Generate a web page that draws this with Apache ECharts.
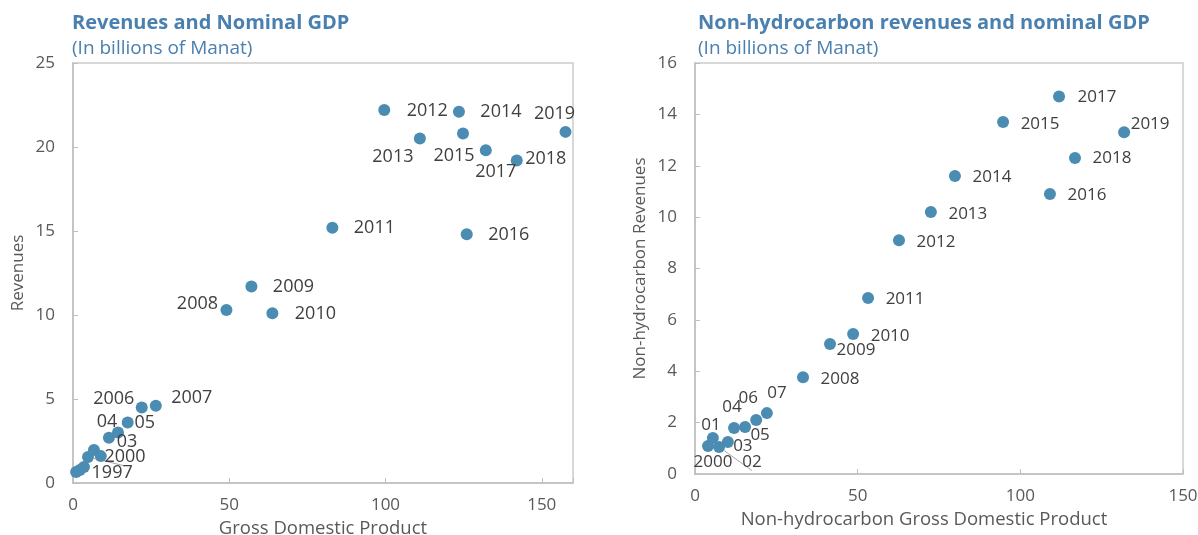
<!DOCTYPE html>
<html>
<head>
<meta charset="utf-8">
<title>Revenues and Nominal GDP</title>
<script src="https://cdn.jsdelivr.net/npm/echarts@6/dist/echarts.min.js"></script>
<style>
  html, body { margin: 0; padding: 0; background: #fff; }
  #chart { width: 1198px; height: 535px; }
</style>
</head>
<body>
<div id="chart"></div>
<script>
// ---- left panel: revenues vs GDP, 1997-2019 ----
var leftYears = [1997, 1998, 1999, 2000, 2001, 2002, 2003, 2004, 2005, 2006, 2007, 2008,
  2009, 2010, 2011, 2012, 2013, 2014, 2015, 2016, 2017, 2018, 2019];
var leftGdp = [1.0, 2.2, 3.5, 4.8, 6.7, 8.9, 11.5, 14.4, 17.5, 22.0, 26.5, 49.1,
  57.1, 63.8, 83.0, 99.6, 111.0, 123.5, 124.8, 126.0, 132.1, 142.0, 157.6];
var leftRevenues = [0.65, 0.77, 0.95, 1.55, 1.96, 1.6, 2.7, 3.0, 3.6, 4.5, 4.6, 10.3,
  11.7, 10.1, 15.2, 22.2, 20.5, 22.1, 20.8, 14.8, 19.8, 19.2, 20.9];
var leftLabels = ['1997', '', '', '2000', '', '', '03', '04', '05', '2006', '2007', '2008',
  '2009', '2010', '2011', '2012', '2013', '2014', '2015', '2016', '2017', '2018', '2019'];

// ---- right panel: non-hydrocarbon revenues vs non-hydrocarbon GDP, 2000-2019 ----
var rightYears = [2000, 2001, 2002, 2003, 2004, 2005, 2006, 2007, 2008, 2009,
  2010, 2011, 2012, 2013, 2014, 2015, 2016, 2017, 2018, 2019];
var rightGdp = [4.0, 5.5, 7.4, 10.1, 12.0, 15.4, 18.8, 22.1, 33.2, 41.5,
  48.6, 53.2, 62.7, 72.5, 79.9, 94.7, 109.1, 111.9, 116.8, 131.9];
var rightRevenues = [1.09, 1.4, 1.05, 1.25, 1.79, 1.83, 2.1, 2.37, 3.77, 5.06,
  5.45, 6.85, 9.1, 10.2, 11.6, 13.7, 10.9, 14.7, 12.3, 13.3];
var rightLabels = ['2000', '01', '02', '03', '04', '05', '06', '07', '2008', '2009',
  '2010', '2011', '2012', '2013', '2014', '2015', '2016', '2017', '2018', '2019'];

// label placement (offset of label centre from the dot), by year
var leftLabelOffset = {
  1997: [36, 1], 2000: [37, 0], 2003: [18, 4], 2004: [-11, -11], 2005: [17, 0],
  2006: [-28, -9], 2007: [36, -8], 2008: [-29, -6], 2009: [42, 0], 2010: [43, 1],
  2011: [42, 0], 2012: [43, 1], 2013: [-27, 18], 2014: [42, 0], 2015: [-9, 22],
  2016: [42, 1], 2017: [10, 22], 2018: [29, -2], 2019: [-11, -18]
};
var rightLabelOffset = {
  2000: [5, 16], 2001: [-2, -13], 2002: [33, 15], 2003: [15, 4], 2004: [-2, -21],
  2005: [15, 8], 2006: [-8, -22], 2007: [10, -20], 2008: [37, 2], 2009: [26, 6],
  2010: [37, 2], 2011: [37, 1], 2012: [37, 2], 2013: [37, 2], 2014: [37, 1],
  2015: [37, 2], 2016: [37, 1], 2017: [38, 1], 2018: [37, 0], 2019: [26, -8]
};
// labels that were pulled away from their dot get a thin leader line
var leftLeader = [2000];
var rightLeader = [2002];

var dotColor = '#4a8cb2';
var titleColor = '#4a80b0';
var textColor = '#404040';
var axisColor = '#bfbfbf';
var fontFamily = '"Open Sans", "Noto Sans", sans-serif';

function buildPoints(xs, ys, years, labels, offsets, leaders, fontSize) {
  var pts = [];
  for (var i = 0; i < xs.length; i++) {
    var item = { value: [xs[i], ys[i]] };
    if (labels[i]) {
      item.label = {
        show: true,
        formatter: labels[i],
        position: 'inside',
        offset: offsets[years[i]] || [36, 0],
        color: textColor,
        fontSize: fontSize,
        fontFamily: fontFamily
      };
      if (leaders.indexOf(years[i]) >= 0) {
        item.labelLine = { show: true, lineStyle: { color: '#a6a6a6', width: 1 } };
      }
    } else {
      item.label = { show: false };
    }
    pts.push(item);
  }
  return pts;
}

function makeXAxis(gridIndex, max, name, gap, shift) {
  return {
    gridIndex: gridIndex, type: 'value', min: 0, max: max, interval: 50,
    name: name, nameLocation: 'middle', nameGap: gap,
    nameTextStyle: { color: '#595959', fontSize: 18.5, fontFamily: fontFamily, padding: [0, shift, 0, 0] },
    axisLine: { show: true, lineStyle: { color: axisColor, width: 1.5 } },
    axisTick: { show: true, inside: true, length: 5, lineStyle: { color: axisColor } },
    axisLabel: {
      color: '#595959', fontSize: 17, fontFamily: fontFamily, margin: 14,
      formatter: function (v) { return v % 50 === 0 ? v : ''; }
    },
    splitLine: { show: false }
  };
}

function makeYAxis(gridIndex, max, interval, name) {
  return {
    gridIndex: gridIndex, type: 'value', min: 0, max: max, interval: interval,
    name: name, nameLocation: 'middle', nameGap: 46,
    nameTextStyle: { color: '#595959', fontSize: 17, fontFamily: fontFamily },
    axisLine: { show: true, lineStyle: { color: axisColor, width: 1.5 } },
    axisTick: { show: true, inside: true, length: 5, lineStyle: { color: axisColor } },
    axisLabel: { color: '#595959', fontSize: 17, fontFamily: fontFamily, margin: 18 },
    splitLine: { show: false }
  };
}

var chart = echarts.init(document.getElementById('chart'));
var option = {
  backgroundColor: '#ffffff',
  animation: false,
  title: [
    {
      text: 'Revenues and Nominal GDP', subtext: '(In billions of Manat)',
      left: 67, top: 8, itemGap: 6,
      textStyle: { color: titleColor, fontSize: 20, fontWeight: 'bold', fontFamily: fontFamily },
      subtextStyle: { color: titleColor, fontSize: 19, fontFamily: fontFamily }
    },
    {
      text: 'Non-hydrocarbon revenues and nominal GDP', subtext: '(In billions of Manat)',
      left: 693, top: 8, itemGap: 6,
      textStyle: { color: titleColor, fontSize: 20, fontWeight: 'bold', fontFamily: fontFamily },
      subtextStyle: { color: titleColor, fontSize: 19, fontFamily: fontFamily }
    }
  ],
  grid: [
    { left: 73, top: 63, width: 500, height: 420, outerBoundsMode: 'none',
      show: true, borderColor: '#cccccc', borderWidth: 1.5 },
    { left: 695, top: 63, width: 488, height: 411, outerBoundsMode: 'none',
      show: true, borderColor: '#cccccc', borderWidth: 1.5 }
  ],
  xAxis: [
    makeXAxis(0, 160, 'Gross Domestic Product', 34, 0),
    makeXAxis(1, 150, 'Non-hydrocarbon Gross Domestic Product', 36, 30)
  ],
  yAxis: [
    makeYAxis(0, 25, 5, 'Revenues'),
    makeYAxis(1, 16, 2, 'Non-hydrocarbon Revenues')
  ],
  series: [
    {
      name: 'Revenues', type: 'scatter', xAxisIndex: 0, yAxisIndex: 0,
      symbolSize: 12, itemStyle: { color: dotColor, opacity: 1 },
      data: buildPoints(leftGdp, leftRevenues, leftYears, leftLabels, leftLabelOffset, leftLeader, 18)
    },
    {
      name: 'Non-hydrocarbon revenues', type: 'scatter', xAxisIndex: 1, yAxisIndex: 1,
      symbolSize: 12, itemStyle: { color: dotColor, opacity: 1 },
      data: buildPoints(rightGdp, rightRevenues, rightYears, rightLabels, rightLabelOffset, rightLeader, 17)
    }
  ]
};
chart.setOption(option);
</script>
</body>
</html>
